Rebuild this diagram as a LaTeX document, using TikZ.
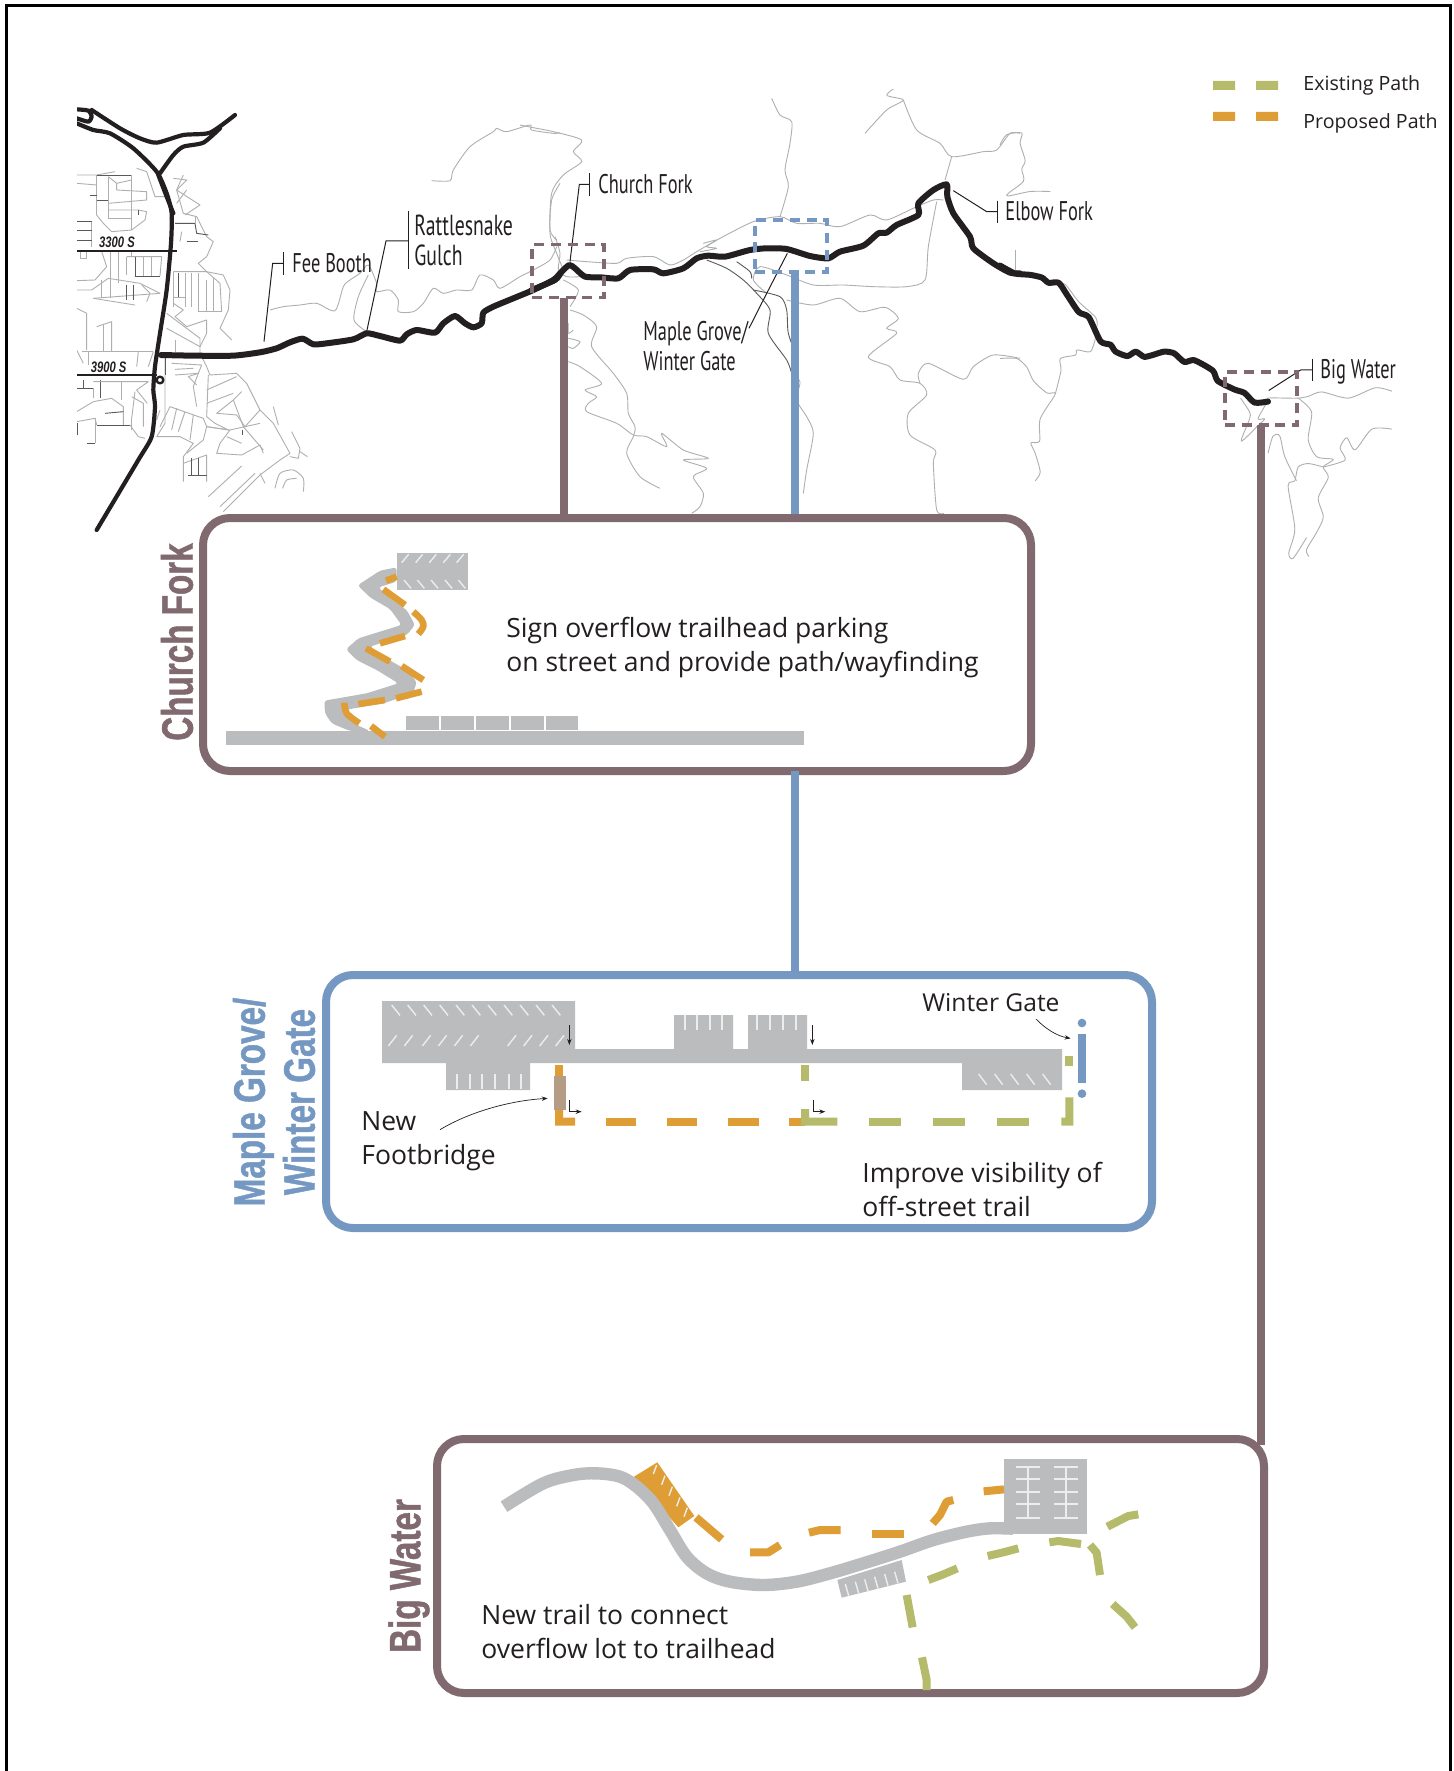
\documentclass[tikz,border=0pt]{standalone}
\usepackage{fontspec}
\usetikzlibrary{arrows.meta}
\setmainfont{Open Sans}
\newfontfamily\maplbl[FakeStretch=0.68]{PT Sans}
\newfontfamily\bodyf{Open Sans}
\newfontfamily\titlef[FakeStretch=0.755,BoldFeatures={FakeBold=1}]{Liberation Sans}
\newfontfamily\streetf[FakeStretch=0.74]{Liberation Sans}
\definecolor{brownc}{HTML}{806A70}
\definecolor{bluec}{HTML}{7498C2}
\definecolor{orangec}{HTML}{DE9E35}
\definecolor{greenc}{HTML}{B5BB6B}
\definecolor{grayc}{HTML}{BBBCBE}
\definecolor{tanc}{HTML}{B49D84}
\definecolor{inkc}{HTML}{231F20}
\definecolor{thinc}{HTML}{AEAFB1}
\definecolor{whitec}{HTML}{EDEDEE}
\tikzset{
 panel/.style={draw=#1,line width=4pt,rounded corners=13.5pt,fill=white,inner sep=0pt,outer sep=0pt},
 zone/.style={draw=#1,line width=1.6pt,dash pattern=on 5pt off 3.4pt,inner sep=0pt,outer sep=0pt},
 link/.style={draw=#1,line width=4pt},
 road/.style={draw=inkc,line width=3pt,line join=round,line cap=round},
 hwy/.style={draw=inkc,line width=2.1pt,line join=round,line cap=round},
 thinl/.style={draw=thinc,line width=0.45pt,line join=round},
 darkl/.style={draw=black!65,line width=0.45pt,line join=round},
 leader/.style={draw=inkc,line width=0.5pt,line join=miter},
 maplabel/.style={font=\maplbl\fontsize{13.5}{15}\selectfont,text=inkc,inner sep=0pt,align=left,anchor=west},
 bodytext/.style={font=\bodyf\fontsize{13.25}{17}\selectfont,text=inkc,inner sep=0pt,align=left,anchor=west},
 smalltext/.style={font=\bodyf\fontsize{9.8}{11}\selectfont,text=inkc,inner sep=0pt,anchor=west},
 sidetitle/.style={font=\titlef\fontsize{22}{25}\selectfont\bfseries,text=#1,inner sep=0pt,align=center,rotate=90},
 streetname/.style={font=\streetf\fontsize{7.6}{8}\selectfont\bfseries\itshape,text=inkc,inner sep=0pt},
 dashO/.style={draw=orangec,line width=4pt,line join=round},
 dashOc/.style={draw=orangec,line width=3.3pt,line join=round},
 dashG/.style={draw=greenc,line width=4pt,line join=round},
 whitemark/.style={draw=whitec,line width=0.7pt},
 tinyarrow/.style={draw=inkc,line width=0.5pt,-{Stealth[length=3pt,width=2.2pt]}},
}
\newcommand{\pl}[1]{\draw[thinl] plot coordinates {#1};}
\newcommand{\dk}[1]{\draw[darkl] plot coordinates {#1};}
\newcommand{\cv}[1]{\draw[thinl] plot[smooth,tension=.45] coordinates {#1};}
\newcommand{\cd}[1]{\draw[darkl] plot[smooth,tension=.45] coordinates {#1};}
\begin{document}
\begin{tikzpicture}[x=0.5pt,y=-0.5pt]
\useasboundingbox (0,0) rectangle (1454,1771);
\fill[white] (0,0) rectangle (1454,1771);
\draw[black,line width=1.5pt] (6,1790) -- (6,6) -- (1450,6) -- (1450,1790);

% ---------- map, west part
\begin{scope}
\clip (77,90) rectangle (1400,560);
\begin{scope}[shift={(60,90)},scale=1/3]
\pl{(50,255)(110,255)(165,245)}
\pl{(110,255)(110,375)}
\dk{(110,255)(215,255)}
\pl{(215,255)(215,420)}
\pl{(145,260)(145,385)}
\pl{(145,260)(170,280)(170,300)(260,305)(260,330)(145,340)}
\pl{(170,280)(215,270)}
\pl{(145,360)(235,360)(260,365)(255,390)(215,420)}
\pl{(145,385)(215,385)}
\pl{(50,280)(110,285)}
\dk{(90,315)(110,315)}\dk{(110,330)(145,330)}
\pl{(110,375)(130,400)(155,425)(215,420)}
\dk{(50,395)(95,395)}\pl{(95,395)(95,470)}
\dk{(50,420)(95,420)}
\dk{(50,450)(95,450)}
\pl{(230,235)(260,245)(285,320)(320,320)}
\dk{(235,360)(235,375)}
\pl{(340,265)(380,270)(350,300)(370,370)(410,380)(440,440)(460,455)(440,500)(415,520)(440,545)(490,555)(510,600)(505,660)(480,715)(515,750)}
\pl{(370,255)(350,300)(420,345)(375,375)}
\dk{(345,400)(405,400)(410,430)(445,435)}
\pl{(365,425)(360,455)}\dk{(380,455)(415,455)}
\pl{(380,300)(350,340)}
\pl{(405,400)(405,380)}
\pl{(60,485)(60,505)(80,505)(80,485)}
\pl{(125,485)(140,530)(105,570)(50,572)}
\pl{(150,485)(150,590)}
\pl{(175,485)(175,580)}
\pl{(200,500)(200,555)}\dk{(225,558)(300,558)}\pl{(300,558)(305,500)(200,500)}
\dk{(225,500)(225,558)}\pl{(250,500)(250,558)}\pl{(275,500)(275,558)}
\pl{(215,485)(215,500)}
\pl{(50,600)(95,600)(145,565)(240,580)(300,610)(100,625)}
\pl{(125,570)(125,625)}\pl{(150,590)(150,625)}\dk{(198,585)(198,630)}\dk{(220,585)(220,630)}\pl{(245,585)(270,610)(260,635)}
\pl{(100,625)(225,645)}
\pl{(340,545)(340,650)}\dk{(355,550)(355,620)}\pl{(375,550)(375,650)}\pl{(395,550)(395,650)}\pl{(415,550)(415,665)}\pl{(340,622)(375,622)}
\pl{(340,545)(440,545)(480,580)(485,665)}\pl{(485,665)(415,665)}
\pl{(440,570)(440,665)}\pl{(460,565)(460,665)}
\pl{(50,655)(80,670)(80,780)}\pl{(110,710)(155,695)(155,785)}\pl{(130,705)(130,785)}
\pl{(50,780)(70,820)}\pl{(65,785)(280,785)}
\pl{(85,785)(85,825)}\pl{(235,785)(230,830)}\pl{(280,785)(265,830)}
\pl{(340,640)(370,660)(345,680)(380,710)(440,690)(440,730)(420,770)}
\pl{(320,670)(420,745)(420,800)}
\pl{(320,715)(420,770)}
\pl{(345,750)(345,785)}
\pl{(420,790)(440,830)(450,855)(530,850)(560,880)(600,960)(640,1000)(690,1090)(660,1110)}
\pl{(335,820)(425,825)(415,850)(385,860)(410,885)}\pl{(345,855)(415,850)(400,890)(410,950)}
\pl{(345,838)(400,835)}
\pl{(445,855)(440,980)(465,1000)(505,1020)(440,1010)}
\pl{(440,900)(530,860)}\pl{(440,940)(520,910)}\pl{(520,930)(470,970)(530,975)(555,1010)(600,960)}
\pl{(545,905)(520,930)}
\pl{(520,930)(550,1010)(610,1080)}
\dk{(50,895)(100,895)}\pl{(100,895)(100,925)}
\dk{(70,870)(70,895)}
\dk{(120,870)(120,925)}\pl{(100,935)(155,925)(190,950)(190,1005)}
\pl{(100,875)(265,875)(230,900)(262,940)}
\pl{(185,875)(185,930)}
\pl{(50,965)(100,935)}
\pl{(50,995)(105,985)(110,1005)}\dk{(110,1005)(210,1005)}\pl{(210,1005)(235,1040)(255,1045)}
\dk{(135,970)(190,965)}
\pl{(215,920)(250,940)(250,1010)}
\pl{(215,985)(215,1020)}
\dk{(52,1000)(52,1035)}
\dk{(82,1060)(105,1060)}\pl{(105,1060)(105,985)}
\pl{(225,905)(215,985)}
\pl{(315,800)(315,1000)(290,1040)(360,1040)(400,1060)(370,1100)(370,1175)}
\pl{(300,1010)(330,950)(430,985)(440,1010)(430,1050)(380,1090)}
\pl{(350,955)(335,1020)}\pl{(375,965)(355,1025)}\pl{(400,975)(390,1050)}
\pl{(440,1010)(510,1020)(480,1060)(470,1090)(545,1095)(600,1065)(610,1090)}
\pl{(500,1040)(545,1060)}
\pl{(510,1020)(600,1000)}
\dk{(547,1020)(547,1035)}
\pl{(370,1120)(440,1095)(440,1175)}
\dk{(395,1105)(395,1155)}\dk{(415,1105)(415,1155)}\dk{(385,1155)(440,1155)}
\pl{(445,1220)(545,1128)}\pl{(480,1250)(585,1150)}\pl{(490,1265)(600,1155)(660,1110)}
\pl{(600,1150)(615,1180)}
\cv{(645,1195)(660,1150)(700,1140)(730,1165)(730,1205)}
\cv{(668,1195)(680,1170)(710,1165)}
\pl{(640,950)(655,1005)}\pl{(695,1025)(720,1075)(715,1105)(690,1100)}\pl{(720,1085)(742,1100)}
\pl{(300,960)(290,990)}
% contours
\cv{(1115,272)(1170,272)(1180,240)(1230,170)(1300,125)(1310,115)(1340,125)(1410,105)(1415,120)(1480,130)(1500,128)}
\cv{(630,660)(670,650)(720,645)(770,640)(825,662)(850,590)(870,570)(900,550)(925,525)(950,580)(950,605)(990,600)(1015,630)(1015,665)(1060,665)(1090,640)(1120,595)(1150,610)(1190,600)(1235,600)(1260,555)(1300,570)(1320,595)(1380,560)(1420,540)(1470,510)(1490,470)}
\cv{(925,555)(895,620)(882,690)(920,725)}
\cv{(1500,280)(1475,330)(1470,420)(1490,450)}
% highway
\draw[hwy] plot[smooth,tension=.4] coordinates {(50,58)(85,62)(95,80)(85,95)(50,85)};
\draw[hwy] plot[smooth,tension=.4] coordinates {(50,100)(100,120)(150,130)(220,175)(290,245)(320,310)(335,370)(333,460)(320,600)(300,730)(285,830)(280,900)(285,950)(275,1040)(235,1110)(110,1320)};
\draw[hwy] plot[smooth,tension=.4] coordinates {(95,60)(180,115)(240,145)(290,158)(370,135)(450,128)(525,75)};
\draw[hwy] plot[smooth,tension=.4] coordinates {(300,250)(340,195)(370,170)(430,158)(480,115)};
\draw[hwy] (295,255) -- (320,320) -- (340,370);
\draw[hwy,line width=1.2pt] (300,870) circle (10);
\draw[draw=inkc,line width=1pt] (50,482) -- (352,482);
\draw[draw=inkc,line width=1pt] (50,855) -- (290,855);
\draw[darkl] (300,797) -- (315,797) -- (315,855);
\node[streetname] (s3300) at (171,457) {3300 S};
\node[streetname] (s3900) at (146,832) {3900 S};
\draw[road] plot[smooth,tension=.4] coordinates {(303,795)(400,797)(520,797)(600,787)(650,775)(690,757)(728,746)(760,763)(800,760)(880,748)(920,730)(960,738)(1020,752)(1040,733)(1070,720)(1125,728)(1150,700)(1185,678)(1215,700)(1240,712)(1265,700)(1270,668)(1300,650)(1360,625)(1420,600)(1480,570)(1500,550)};
\draw[leader] (612,755) -- (638,520) -- (670,520);
\draw[leader] (670,487) -- (670,555);
\draw[leader] (920,725) -- (978,453) -- (1045,453);
\draw[leader] (1045,363) -- (1045,537);
\end{scope}

% ---------- map, centre
\begin{scope}[shift={(520,80)},scale=1/3]
\cv{(0,135)(50,145)(100,155)(185,180)(160,215)(185,245)(130,285)(95,340)(90,460)(110,520)(130,570)}
\cv{(140,540)(200,545)(290,550)(320,535)(400,530)(450,555)(490,540)(530,515)(600,475)(700,425)(780,410)(830,430)(900,430)(960,440)(1050,405)(1100,420)(1190,380)(1240,360)(1270,360)}
\cv{(780,410)(805,320)(795,270)(810,190)(815,125)(780,105)(755,55)}
\cv{(1035,160)(1100,90)(1150,60)(1100,45)(1145,10)}
\cv{(1150,60)(1190,150)(1260,190)(1295,230)(1390,215)(1430,210)(1470,160)(1500,160)}
\cv{(1295,230)(1275,300)}
\cv{(1250,365)(1225,500)(1215,600)(1160,620)(1060,620)(970,615)(880,615)(800,585)(720,560)(700,600)(740,640)}
\cv{(550,490)(590,480)(560,500)(590,505)(540,515)}
\cd{(560,540)(620,565)(670,600)(710,640)(750,690)(745,760)(800,840)(815,880)}
\cd{(650,545)(690,575)(695,595)}
\cd{(700,630)(780,650)(800,690)(805,760)(830,830)}
\cv{(815,880)(840,905)(830,960)(860,1010)(880,1060)(860,1170)(850,1240)}
\cv{(800,660)(880,675)(960,655)(1020,695)(1095,682)(1135,715)(1100,745)(1130,760)(1045,830)(1110,860)(1140,900)(1200,910)(1220,945)(1165,1000)(1170,1065)(1245,1110)(1240,1150)(1250,1290)(1272,1300)}
\cv{(1200,910)(1195,880)(1225,850)(1330,898)(1360,860)(1420,825)(1500,835)}
\cv{(150,690)(190,705)(230,740)(215,800)(280,880)(320,940)(325,1000)(345,1040)(340,1070)(320,1120)(360,1190)(420,1225)}
\cv{(145,845)(180,860)(245,910)(195,930)(230,950)(205,970)(200,995)(290,1030)(340,1065)(380,1070)(440,1100)(425,1060)(490,1110)(565,1135)(490,1140)(560,1165)(520,1190)(550,1240)(540,1280)(515,1300)}
\cv{(145,775)(180,785)(160,805)(145,800)}
\cv{(145,730)(145,760)(160,750)}
\cv{(130,600)(175,630)(150,680)}
\cv{(105,470)(120,520)(115,570)(140,590)(180,590)}
\draw[road] plot[smooth,tension=.4] coordinates {(35,630)(105,600)(125,575)(148,555)(165,565)(195,590)(240,592)(295,595)(330,570)(400,568)(430,580)(490,565)(530,535)(565,527)(615,530)(690,510)(740,505)(800,507)(870,528)(925,535)(960,515)(1030,497)(1075,460)(1100,458)(1130,435)(1195,405)(1195,370)(1240,330)(1280,313)(1282,350)(1300,400)(1350,470)(1360,505)(1420,550)(1470,578)(1500,580)};
\draw[leader] (150,545) -- (178,313) -- (208,313);
\draw[leader] (208,280) -- (208,348);
\draw[leader] (802,520) -- (735,650) -- (687,745);
\draw[leader] (1300,332) -- (1400,395) -- (1433,395);
\draw[leader] (1433,362) -- (1433,428);
\end{scope}

% ---------- map, east
\begin{scope}[shift={(1000,40)},xscale=1/2.985,yscale=1/2.904]
\cv{(0,305)(20,275)(65,270)(60,300)(75,350)(65,375)(70,410)(25,445)(25,453)(90,440)(150,440)}
\cv{(0,925)(50,925)(80,950)(100,990)(140,1025)(165,1028)(120,1100)(118,1165)(92,1170)(105,1200)(120,1255)(105,1280)}
\cv{(165,1028)(182,960)(180,925)(225,915)(230,900)(270,905)(285,865)}
\cv{(170,705)(195,710)(235,760)(285,805)(290,830)}
\cv{(718,1040)(745,1080)(745,1100)(720,1165)(770,1120)(790,1100)(770,1100)(795,1055)(800,1040)(850,1040)(890,1040)(920,1035)(960,1022)(1040,1040)(1120,1010)(1170,1020)}
\cv{(890,1040)(930,1080)(920,1160)(945,1210)(995,1218)(965,1240)(980,1270)(950,1330)(965,1385)(945,1430)(915,1480)(922,1500)}
\cv{(965,1240)(1030,1220)(1015,1185)(1035,1155)(1060,1190)(1110,1130)(1170,1130)}
\cv{(965,1240)(920,1230)(890,1240)(880,1280)(860,1295)(880,1420)(862,1490)(875,1505)(915,1445)}
\cv{(800,1200)(815,1150)(835,1150)(850,1210)(885,1280)}
\cv{(795,1520)(850,1532)(912,1532)}
\draw[thinl] (46,610) -- (46,680);
\draw[road] plot[smooth,tension=.4] coordinates {(0,655)(45,678)(90,682)(125,690)(145,705)(175,705)(200,740)(235,790)(265,805)(300,875)(330,885)(345,905)(380,918)(405,905)(430,920)(455,915)(490,905)(520,910)(550,935)(580,930)(635,960)(650,990)(700,1015)(730,1025)(760,1053)(800,1050)};
\draw[leader] (802,1018) -- (898,958) -- (933,958);
\draw[leader] (933,925) -- (933,990);
\end{scope}
\end{scope}

% ---------- map labels
\node[maplabel] (fee) at (292,263) {Fee Booth};
\node[maplabel,font=\maplbl\fontsize{14.5}{15}\selectfont] (rattle) at (414,240) {Rattlesnake\\Gulch};
\node[maplabel] (churchl) at (598,184) {Church Fork};
\node[maplabel] (maplel) at (643,346) {Maple Grove/\\Winter Gate};
\node[maplabel] (elbow) at (1005,211) {Elbow Fork};
\node[maplabel] (bigl) at (1320,372) {Big Water};

% ---------- legend
\fill[greenc] (1213,81) rectangle (1235,90) (1256,81) rectangle (1278,90);
\fill[orangec] (1213,112) rectangle (1235,121) (1256,112) rectangle (1278,121);
\node[smalltext] (existing) at (1303,85) {Existing Path};
\node[smalltext] (proposed) at (1303,123) {Proposed Path};

% ---------- panels and zones
\node[zone=brownc,minimum width=36pt,minimum height=26.5pt] (cfzone) at (568,271) {};
\node[zone=bluec,minimum width=36pt,minimum height=26pt] (mgzone) at (791,246) {};
\node[zone=brownc,minimum width=36pt,minimum height=26.5pt] (bwzone) at (1261,398.5) {};
\coordinate (cfx) at (564,0);
\coordinate (mgx) at (795,0);
\coordinate (bwx) at (1261,0);
\coordinate (cftop) at (0,518);
\coordinate (bwtop) at (0,1445);

\draw[link=bluec] (mgzone.south -| mgx) -- (mgx |- cftop);
\draw[link=brownc] (cfzone.south -| cfx) -- (cfx |- cftop);
\node[panel=brownc,minimum width=414pt,minimum height=126.5pt] (cfbox) at (617,644.5) {};
\node[panel=bluec,minimum width=413pt,minimum height=126.5pt] (mgbox) at (739,1101.5) {};
\draw[link=bluec] (cfbox.south -| mgx) -- (mgbox.north -| mgx);
\node[panel=brownc,minimum width=413.5pt,minimum height=127pt] (bwbox) at (850.5,1566) {};
\draw[link=brownc] (bwzone.south -| bwx) -- (bwx |- bwtop);

\node[sidetitle=brownc] (cft) at (177,642) {Church Fork};
\node[sidetitle=bluec] (mgt) at (274,1102) {Maple Grove/\\Winter Gate};
\node[sidetitle=brownc] (bwt) at (409,1576) {Big Water};

% ---------- Church Fork panel
\begin{scope}[shift={(150,510)},scale=1/3]
\fill[grayc] (228,663) rectangle (1962,705);
\foreach \a/\b in {768/868,873/972,978/1078,1083/1182,1188/1285} \fill[grayc] (\a,618) rectangle (\b,660);
\fill[grayc,rounded corners=1.5pt] (740,172) -- (690,182) -- (623,226) -- (660,262) -- (720,297) -- (755,345) -- (690,365) -- (625,385) -- (588,418) -- (620,450) -- (680,480) -- (745,520) -- (650,550) -- (523,572) -- (525,610) -- (545,640) -- (600,663) -- (660,663) -- (610,640) -- (575,605) -- (600,597) -- (700,580) -- (790,550) -- (800,515) -- (770,480) -- (700,440) -- (660,410) -- (690,400) -- (770,375) -- (795,345) -- (770,300) -- (720,265) -- (685,232) -- (740,215) -- cycle;
\fill[grayc] (740,128) rectangle (953,240);
\foreach \a in {755,797,838,880,920} \draw[whitemark] (\a,158) -- ++(21,-25);
\foreach \a in {762,802,843,885,925} \draw[whitemark] (\a,210) -- ++(21,25);
\draw[dashOc] (740,200) -- (708,212);
\draw[dashOc] (700,238) -- (765,285);
\draw[dashOc] plot[smooth,tension=.5] coordinates {(790,305)(815,330)(820,350)(805,372)};
\draw[dashOc] (765,378) -- (690,400);
\draw[dashOc] (648,415) -- (720,455);
\draw[dashOc] (755,468) -- (820,510);
\draw[dashOc] (815,545) -- (738,565);
\draw[dashOc] (705,570) -- (625,582);
\draw[dashOc] plot[smooth,tension=.5] coordinates {(583,578)(590,610)(628,640)};
\draw[dashOc] (663,648) -- (705,680);
\end{scope}
\node[bodytext] (cftext) at (506,648) {Sign overflow trailhead parking\\on street and provide path/wayfinding};

% ---------- Maple Grove panel
\begin{scope}[shift={(320,970)},scale=1/3]
\fill[grayc] (186,93) -- (765,93) -- (765,237) -- (1062,237) -- (1062,135) -- (1239,135) -- (1239,237) -- (1284,237) -- (1284,135) -- (1461,135) -- (1461,237) -- (2226,237) -- (2226,360) -- (1926,360) -- (1926,279) -- (630,279) -- (630,360) -- (378,360) -- (378,279) -- (186,279) -- cycle;
\foreach \a in {215,263,311,359,408,456,504,552,600,648,696} \draw[whitemark] (\a,105) -- ++(25,31);
\foreach \a in {205,253,307,355,403,451,563,611,659,707} \draw[whitemark] (\a,228) -- ++(25,-32);
\foreach \a in {1095,1131,1169,1206,1311,1349,1388,1428} \draw[whitemark,line width=1pt] (\a,135) -- (\a,180);
\foreach \a in {411,449,486,524,566,603} \draw[whitemark,line width=1pt] (\a,312) -- (\a,357);
\foreach \a in {1976,2024,2072,2120,2168} \draw[whitemark] (\a,312) -- ++(24,32);
\draw[tinyarrow] (748,165) -- (748,225);
\draw[tinyarrow] (1477,165) -- (1477,225);
\draw[tinyarrow] (748,390) -- (748,425) -- (785,425);
\draw[tinyarrow] (1480,390) -- (1480,425) -- (1516,425);
\fill[orangec] (705,285) rectangle (729,320);
\fill[orangec] (705,420) -- (729,420) -- (729,443) -- (765,443) -- (765,467) -- (705,467) -- cycle;
\fill[tanc] (702,318) rectangle (738,420);
\foreach \a/\b in {857/948,1041/1132,1224/1316,1407/1455} \fill[orangec] (\a,443) rectangle (\b,467);
\fill[greenc] (1443,285) rectangle (1467,333);
\fill[greenc] (1443,417) -- (1467,417) -- (1467,443) -- (1552,443) -- (1552,467) -- (1443,467) -- cycle;
\foreach \a/\b in {1648/1743,1840/1935,2032/2128} \fill[greenc] (\a,443) rectangle (\b,467);
\fill[greenc] (2224,443) -- (2236,443) -- (2236,382) -- (2260,382) -- (2260,467) -- (2224,467) -- cycle;
\fill[greenc] (2236,258) rectangle (2260,287);
\fill[bluec] (2274,192) rectangle (2298,338);
\fill[bluec] (2286,159) circle (13) (2286,371) circle (13);
\coordinate (gatearrow) at (2252,205);
\coordinate (gatefrom) at (2148,147);
\coordinate (fbarrow) at (683,385);
\coordinate (fbfrom) at (360,479);
\draw[tinyarrow,line width=.35pt] (gatefrom) .. controls (2175,175) and (2210,198) .. (gatearrow);
\draw[tinyarrow,line width=.35pt] (fbfrom) .. controls (450,425) and (570,392) .. (fbarrow);
\end{scope}
\node[bodytext,font=\bodyf\fontsize{12.3}{17}\selectfont] (gatel) at (922,1003) {Winter Gate};
\node[bodytext] (fblabel) at (361,1141) {New\\Footbridge};
\node[bodytext] (mgtext) at (862,1189) {Improve visibility of\\off-street trail};

% ---------- Big Water panel
\begin{scope}[shift={(430,1430)},scale=1/3]
\fill[orangec] (612,140) -- (682,97) -- (793,258) -- (745,292) -- cycle;
\foreach \a/\b in {680/105,705/137,727/170,750/202,772/233} \draw[whitemark] (\a,\b) -- ++(-10,27);
\draw[grayc,line width=6.2pt] plot[smooth,tension=.55] coordinates {(222,230)(340,160)(430,135)(500,130)(570,140)(620,170)(670,220)(720,300)(770,380)(830,430)(900,455)(1000,465)(1100,455)(1200,430)(1300,400)(1410,365)(1510,330)(1610,305)(1680,295)(1749,296)};
\fill[grayc] (1222,450) -- (1415,390) -- (1428,455) -- (1235,503) -- cycle;
\foreach \a/\b in {1246/462,1276/455,1304/448,1334/440,1364/432,1394/425} \draw[whitemark] (\a,\b) -- ++(10,35);
\fill[grayc] (1722,87) rectangle (1971,312);
\foreach \a in {1794,1908} \draw[whitemark,line width=1pt] (\a,110) -- (\a,265);
\foreach \b in {110,147,186,222,264} {\draw[whitemark,line width=1pt] (1758,\b) -- (1830,\b); \draw[whitemark,line width=1pt] (1872,\b) -- (1944,\b);}
\draw[dashO] (798,262) -- (875,328);
\draw[dashO] (960,367) -- (1015,367) -- (1050,345);
\draw[dashO] (1137,308) -- (1170,300) -- (1232,300);
\draw[dashO] (1326,312) -- (1422,312);
\draw[dashO] (1508,280) -- (1530,255) -- (1550,215) -- (1570,210);
\draw[dashO] (1661,184) -- (1722,178);
\draw[dashG] (1495,450) -- (1540,433) -- (1582,415);
\draw[dashG] (1673,378) -- (1720,367) -- (1765,355);
\draw[dashG] (1858,337) -- (1885,333) -- (1953,342);
\draw[dashG] (2032,290) -- (2095,258) -- (2125,253);
\draw[dashG] (1980,345) -- (2000,368) -- (2010,435);
\draw[dashG] (2048,522) -- (2090,560) -- (2115,592);
\draw[dashG] (1430,495) -- (1448,592);
\draw[dashG] (1476,682) -- (1490,750) -- (1490,780);
\end{scope}
\node[bodytext] (bwtext) at (481,1632) {New trail to connect\\overflow lot to trailhead};
\end{tikzpicture}
\end{document}
